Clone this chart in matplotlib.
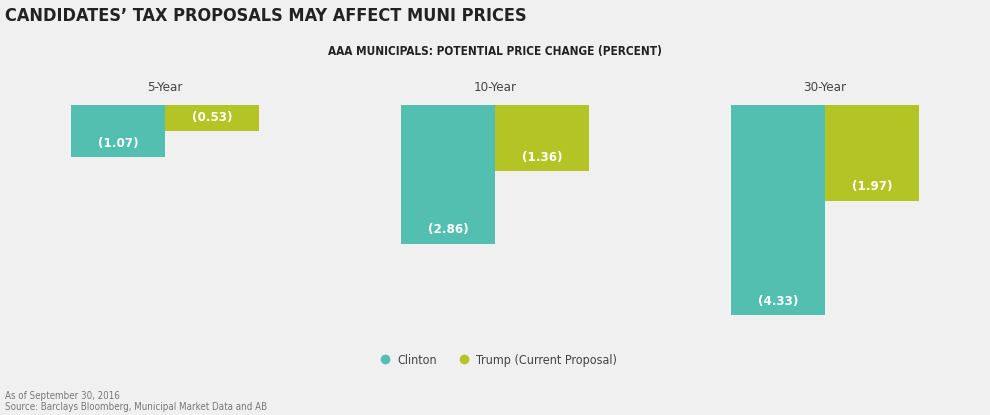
import matplotlib
matplotlib.use("Agg")
import matplotlib.pyplot as plt
import numpy as np

# chart data
maturities = ["5-Year", "10-Year", "30-Year"]
clinton = [-1.07, -2.86, -4.33]
trump = [-0.53, -1.36, -1.97]
series_names = ["Clinton", "Trump (Current Proposal)"]

title = "CANDIDATES\u2019 TAX PROPOSALS MAY AFFECT MUNI PRICES"
subtitle = "AAA MUNICIPALS: POTENTIAL PRICE CHANGE (PERCENT)"
notes = ["As of September 30, 2016",
         "Source: Barclays Bloomberg, Municipal Market Data and AB"]

BG = "#F0F0F0"
TEAL = "#52BFB0"
LIME = "#B3C424"

plt.rcParams["font.family"] = ["DejaVu Sans"]
plt.rcParams["font.stretch"] = "condensed"

fig = plt.figure(figsize=(9.9, 4.15), dpi=100, facecolor=BG)
ax = fig.add_axes([0, 1 - 315 / 415, 1, (315 - 105.5) / 415])
ax.set_facecolor(BG)

x = np.arange(len(maturities))
w = 94 / 330
b1 = ax.bar(x - w / 2, clinton, w, color=TEAL, label=series_names[0])
b2 = ax.bar(x + w / 2, trump, w, color=LIME, label=series_names[1])
ax.set_xlim(-0.5, 2.5)
ax.set_ylim(min(clinton), 0)
ax.axis("off")

for bars in (b1, b2):
    for bar in bars:
        v = bar.get_height()
        ax.annotate(f"({abs(v):.2f})", (bar.get_x() + bar.get_width() / 2, v),
                    xytext=(0, 10), textcoords="offset points",
                    ha="center", va="center", color="white",
                    fontsize=9.5, fontweight="bold")

for i, m in enumerate(maturities):
    ax.annotate(m, (x[i], 0), xytext=(0, 13), textcoords="offset points",
                ha="center", va="center", color="#444444", fontsize=9.5)

fig.text(0.005, 1 - 16 / 415, title, ha="left", va="center",
         fontsize=13, fontweight="bold", color="#222222")
fig.text(0.5, 1 - 52 / 415, subtitle, ha="center", va="center",
         fontsize=8.5, fontweight="bold", color="#222222")

fig.legend(handles=[plt.Line2D([], [], marker="o", ls="", color=TEAL, markersize=6),
                    plt.Line2D([], [], marker="o", ls="", color=LIME, markersize=6)],
           labels=series_names, loc="center", bbox_to_anchor=(0.5, 1 - 360 / 415),
           ncol=2, frameon=False, fontsize=9, handletextpad=0.0,
           columnspacing=1.1, labelcolor="#444444")

fig.text(0.005, 1 - 396 / 415, notes[0], ha="left", va="center",
         fontsize=7, color="#777777")
fig.text(0.005, 1 - 407 / 415, notes[1], ha="left", va="center",
         fontsize=7, color="#777777")

fig.savefig("out.png", dpi=100, facecolor=BG)
